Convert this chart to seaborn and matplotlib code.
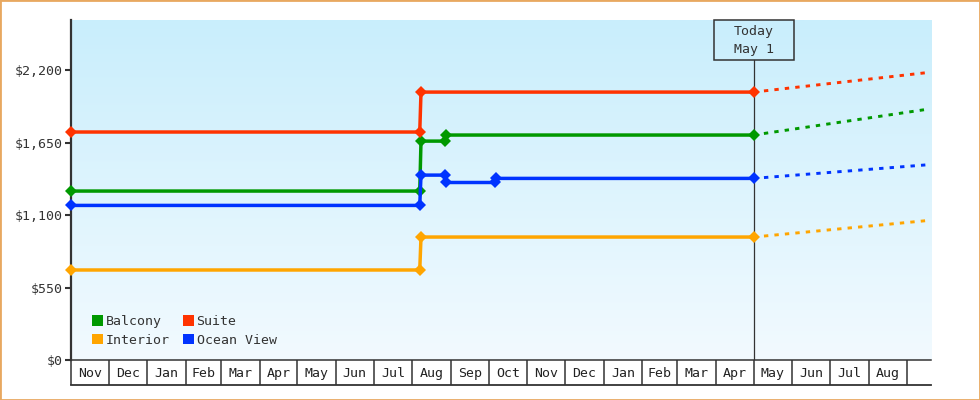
import numpy as np
import pandas as pd
import seaborn as sns
import matplotlib.pyplot as plt
import matplotlib.dates as mdates
from matplotlib.colors import LinearSegmentedColormap
from matplotlib.patches import Patch, Rectangle
from matplotlib.transforms import blended_transform_factory

# price history (step changes)
suite_dates = ['2021-11-01', '2022-08-07', '2022-08-08', '2023-05-01']
suite_prices = [1730, 1730, 2033, 2033]
balcony_dates = ['2021-11-01', '2022-08-07', '2022-08-08', '2022-08-27', '2022-08-28', '2023-05-01']
balcony_prices = [1282, 1282, 1661, 1661, 1707, 1707]
ocean_dates = ['2021-11-01', '2022-08-07', '2022-08-08', '2022-08-27', '2022-08-28',
               '2022-10-06', '2022-10-07', '2023-05-01']
ocean_prices = [1173, 1173, 1403, 1403, 1347, 1347, 1378, 1378]
interior_dates = ['2021-11-01', '2022-08-07', '2022-08-08', '2023-05-01']
interior_prices = [683, 683, 933, 933]

# projection (dotted) from today to the end
proj_dates = ['2023-05-01', '2023-09-18']
suite_proj = [2033, 2182]
balcony_proj = [1707, 1904]
ocean_proj = [1378, 1482]
interior_proj = [933, 1059]

colors = {'Balcony': '#009900', 'Suite': '#ff3300', 'Interior': '#ffa500', 'Ocean View': '#0033ff'}

y_ticks = [0, 550, 1100, 1650, 2200]
y_labels = ['$0', '$550', '$1,100', '$1,650', '$2,200']
month_labels = ['Nov', 'Dec', 'Jan', 'Feb', 'Mar', 'Apr', 'May', 'Jun', 'Jul', 'Aug', 'Sep',
                'Oct', 'Nov', 'Dec', 'Jan', 'Feb', 'Mar', 'Apr', 'May', 'Jun', 'Jul', 'Aug']
today = '2023-05-01'
today_text = 'Today\nMay 1'

hist = pd.concat([
    pd.DataFrame({'date': pd.to_datetime(d), 'price': p, 'cabin': c})
    for c, d, p in [('Balcony', balcony_dates, balcony_prices), ('Suite', suite_dates, suite_prices),
                    ('Interior', interior_dates, interior_prices), ('Ocean View', ocean_dates, ocean_prices)]
])
proj = pd.concat([
    pd.DataFrame({'date': pd.to_datetime(proj_dates), 'price': p, 'cabin': c})
    for c, p in [('Balcony', balcony_proj), ('Suite', suite_proj),
                 ('Interior', interior_proj), ('Ocean View', ocean_proj)]
])

plt.rcParams['font.family'] = ['DejaVu Sans Mono']
ink = '#333333'

fig = plt.figure(figsize=(9.8, 4.0), dpi=100)
ax = fig.add_axes([71 / 980, 40 / 400, 860 / 980, 340 / 400])

# gradient background
bg = LinearSegmentedColormap.from_list('bg', ['#f2faff', '#c9eefc'])
ax.imshow(np.linspace(0, 1, 256).reshape(-1, 1)[::-1], cmap=bg, aspect='auto',
          extent=[0, 1, 0, 1], transform=ax.transAxes, zorder=0)

sns.lineplot(data=proj, x='date', y='price', hue='cabin', palette=colors, ax=ax,
             legend=False, estimator=None, linewidth=2.1, linestyle=(0, (1.5, 2.1)), zorder=3)
sns.lineplot(data=hist, x='date', y='price', hue='cabin', palette=colors, ax=ax,
             legend=False, estimator=None, linewidth=2.5, marker='D', markersize=6,
             markeredgewidth=0, zorder=4)
for ln in ax.get_lines():
    ln.set_clip_on(False)

start = pd.Timestamp('2021-11-01')
ax.set_xlim(start, pd.Timestamp('2023-09-20'))
ax.set_ylim(0, 2580)

# today marker
t = pd.Timestamp(today)
ax.axvline(t, ymin=0, ymax=1 - 40 / 340, color=ink, lw=0.9, zorder=2)
trans = blended_transform_factory(ax.transData, ax.transAxes)
tn = mdates.date2num(t)
ax.add_patch(Rectangle((tn - 32, 1 - 40 / 340), 64, 40 / 340, transform=trans,
                       fill=False, ec=ink, lw=1.1, zorder=5, clip_on=False))
ax.text(tn, 1 - 20 / 340, today_text, transform=trans, ha='center', va='center',
        fontsize=9.5, color=ink, linespacing=1.5, zorder=6)

# y axis
ax.set_yticks(y_ticks)
ax.set_yticklabels(y_labels)
ax.tick_params(axis='y', direction='out', length=4, width=1.5, color=ink,
               labelsize=9.5, labelcolor=ink, pad=2)

# month cells along the bottom
bounds = pd.date_range('2021-11-01', '2023-09-01', freq='MS')
mids = bounds[:-1] + (bounds[1:] - bounds[:-1]) / 2
ax.set_xticks(bounds)
ax.set_xticklabels([])
ax.set_xticks(mids, minor=True)
ax.set_xticklabels(month_labels, minor=True)
ax.tick_params(axis='x', which='major', direction='out', length=18, width=1.1, color=ink)
ax.tick_params(axis='x', which='minor', length=0, pad=5, labelsize=9.5, labelcolor='#222222')
ax.plot([0, 1], [-25 / 340, -25 / 340], transform=ax.transAxes, color=ink, lw=1.3, clip_on=False)

ax.set_xlabel('')
ax.set_ylabel('')
for s in ['top', 'right']:
    ax.spines[s].set_visible(False)
ax.spines['left'].set_color(ink)
ax.spines['left'].set_linewidth(1.6)
ax.spines['left'].set_zorder(2)
ax.spines['bottom'].set_color(ink)
ax.spines['bottom'].set_linewidth(1.1)
ax.grid(False)

handles = [Patch(fc=colors[c], ec='none', label=c) for c in ['Balcony', 'Interior', 'Suite', 'Ocean View']]
ax.legend(handles=handles, ncol=2, loc='upper left', bbox_to_anchor=(0.014, 0.16),
          frameon=False, fontsize=9.5, handlelength=0.85, handleheight=0.85,
          handletextpad=0.2, columnspacing=0.95, labelspacing=0.45, borderpad=0.2,
          labelcolor=ink)

fig.patches.append(Rectangle((0, 0), 1, 1, transform=fig.transFigure, fill=False,
                             ec='#e8a860', lw=2, zorder=10))

fig.savefig('out.png', dpi=100)
